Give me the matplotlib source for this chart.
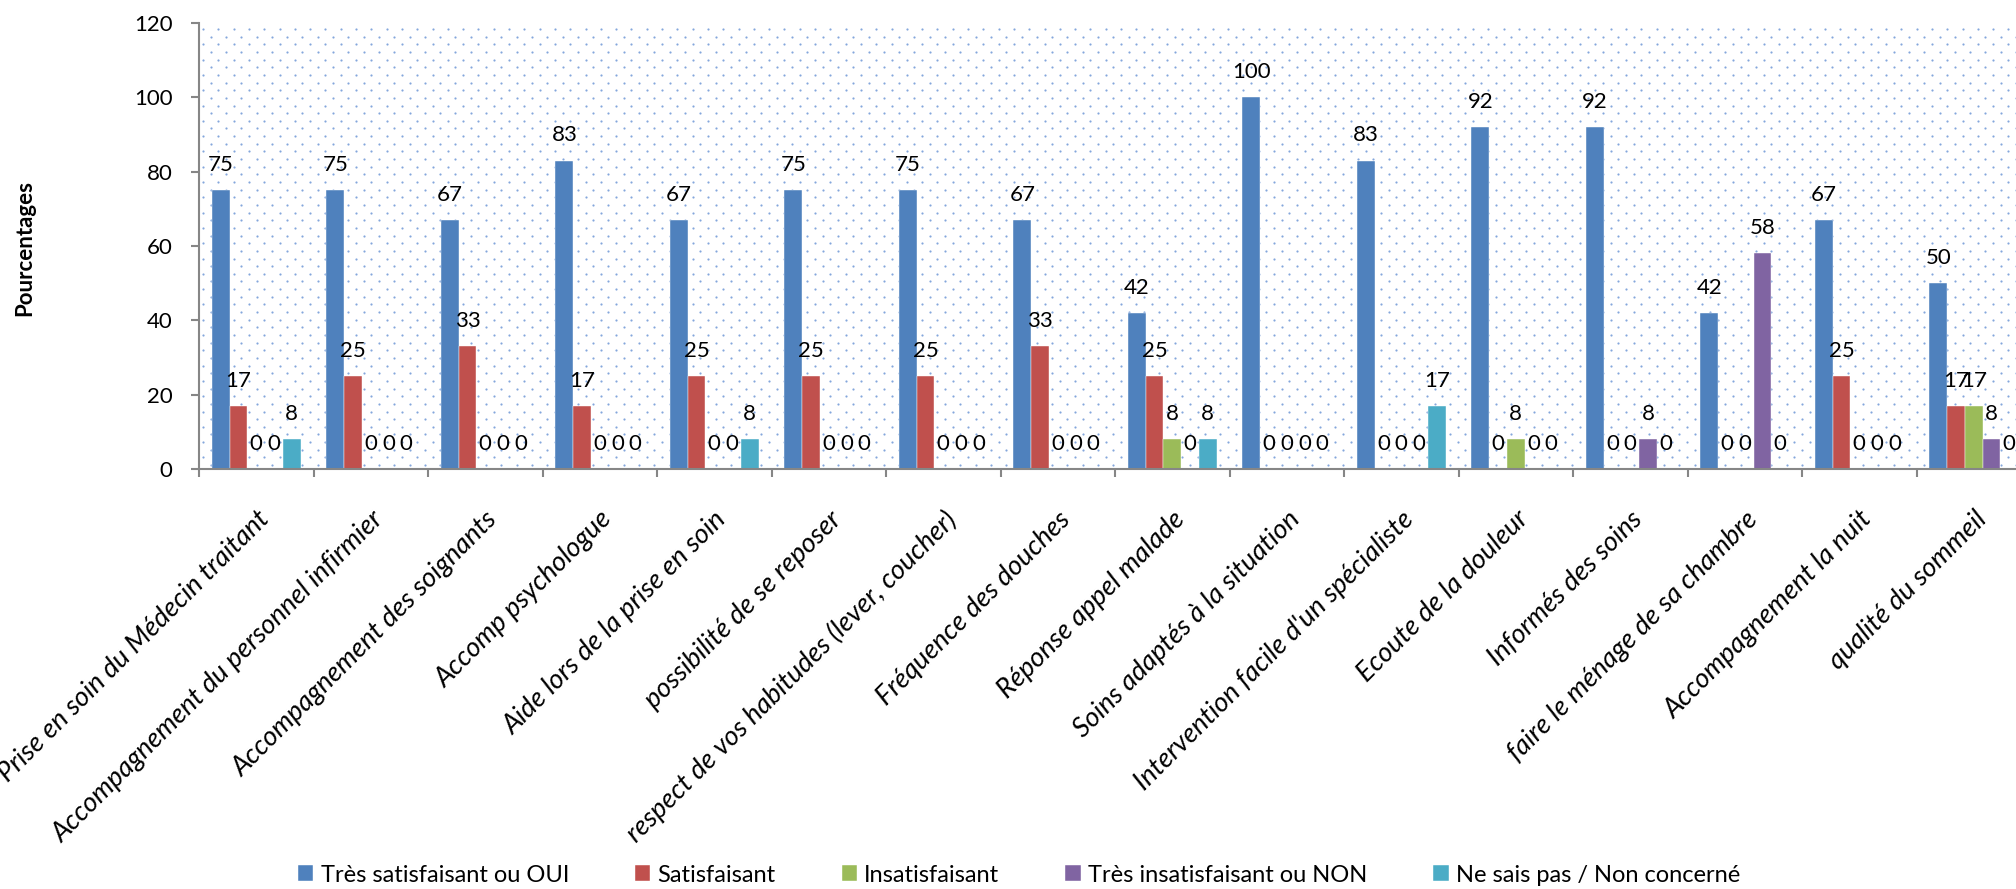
import numpy as np
import matplotlib
matplotlib.use('Agg')
import matplotlib.pyplot as plt

plt.rcParams['font.family'] = ['Lato', 'DejaVu Sans']

categories = ['Prise en soin du Médecin traitant', 'Accompagnement du personnel infirmier',
              'Accompagnement des soignants', 'Accomp psychologue', 'Aide lors de la prise en soin',
              'possibilité de se reposer', 'respect de vos habitudes (lever, coucher)',
              'Fréquence des douches', 'Réponse appel malade', 'Soins adaptés à la situation',
              "Intervention facile d'un spécialiste", 'Ecoute de la douleur', 'Informés des soins',
              'faire le ménage de sa chambre', 'Accompagnement la nuit', 'qualité du sommeil']

series_names = ['Très satisfaisant ou OUI', 'Satisfaisant', 'Insatisfaisant',
                'Très insatisfaisant ou NON', 'Ne sais pas / Non concerné']

tres_satisfaisant = [75, 75, 67, 83, 67, 75, 75, 67, 42, 100, 83, 92, 92, 42, 67, 50]
satisfaisant = [17, 25, 33, 17, 25, 25, 25, 33, 25, 0, 0, 0, 0, 0, 25, 17]
insatisfaisant = [0, 0, 0, 0, 0, 0, 0, 0, 8, 0, 0, 8, 0, 0, 0, 17]
tres_insatisfaisant = [0, 0, 0, 0, 0, 0, 0, 0, 0, 0, 0, 0, 8, 58, 0, 8]
ne_sais_pas = [8, 0, 0, 0, 8, 0, 0, 0, 8, 0, 17, 0, 0, 0, 0, 0]

colors = ['#4F81BD', '#C0504D', '#9BBB59', '#8064A2', '#4BACC6']
values = [tres_satisfaisant, satisfaisant, insatisfaisant, tres_insatisfaisant, ne_sais_pas]

fig = plt.figure(figsize=(20.16, 8.89), dpi=100)
ax = fig.add_axes([199/2016, 420/889, 1832/2016, 446/889])

# dotted background pattern
ncol = int(1832 / 15.3) + 2
nrow = int(446 / 7.65) + 1
px, py = [], []
for r in range(nrow):
    off = 0 if r % 2 == 0 else 7.65
    for c in range(ncol):
        px.append((c * 15.3 + off + 4) / 1832)
        py.append((446 - 6 - r * 7.65) / 446)
ax.scatter(px, py, s=2.5, color='#6F98D6', alpha=0.85, linewidths=0,
           transform=ax.transAxes, zorder=0, clip_on=True)

x = np.arange(len(categories))
w = 0.1546
for i, (vals, col, name) in enumerate(zip(values, colors, series_names)):
    bars = ax.bar(x + (i - 2) * w, vals, w, color=col, label=name, zorder=2,
                  edgecolor='white', linewidth=0.3)
    ax.bar_label(bars, fmt='%d', padding=11, fontsize=16, color='black', zorder=3)

ax.set_xlim(-0.5, len(categories) - 0.5)
ax.set_ylim(0, 120)
ax.set_yticks(range(0, 121, 20))
ax.tick_params(axis='y', labelsize=16, length=6, width=1.5, color='#868686', pad=13)

ax.set_xticks(x)
ax.set_xticklabels(categories, rotation=45, ha='right', rotation_mode='anchor',
                   fontsize=19.5, fontstyle='italic')
ax.tick_params(axis='x', which='major', length=0, pad=27)
ax.set_xticks(np.arange(-0.5, len(categories), 1), minor=True)
ax.tick_params(axis='x', which='minor', length=6, width=1.5, color='#868686')

for s in ['top', 'right']:
    ax.spines[s].set_visible(False)
for s in ['left', 'bottom']:
    ax.spines[s].set_color('#868686')
    ax.spines[s].set_linewidth(1.5)

fig.text(25/2016, 1 - 248/889, 'Pourcentages', rotation=90, ha='center', va='center',
         fontsize=16, fontweight='bold')

fig.legend(loc='center', bbox_to_anchor=(1019/2016, 1 - 875/889), ncol=5, frameon=False,
           fontsize=17, handlelength=0.65, handleheight=0.65, handletextpad=0.3,
           columnspacing=2.8)

fig.savefig('out.png', dpi=100)
